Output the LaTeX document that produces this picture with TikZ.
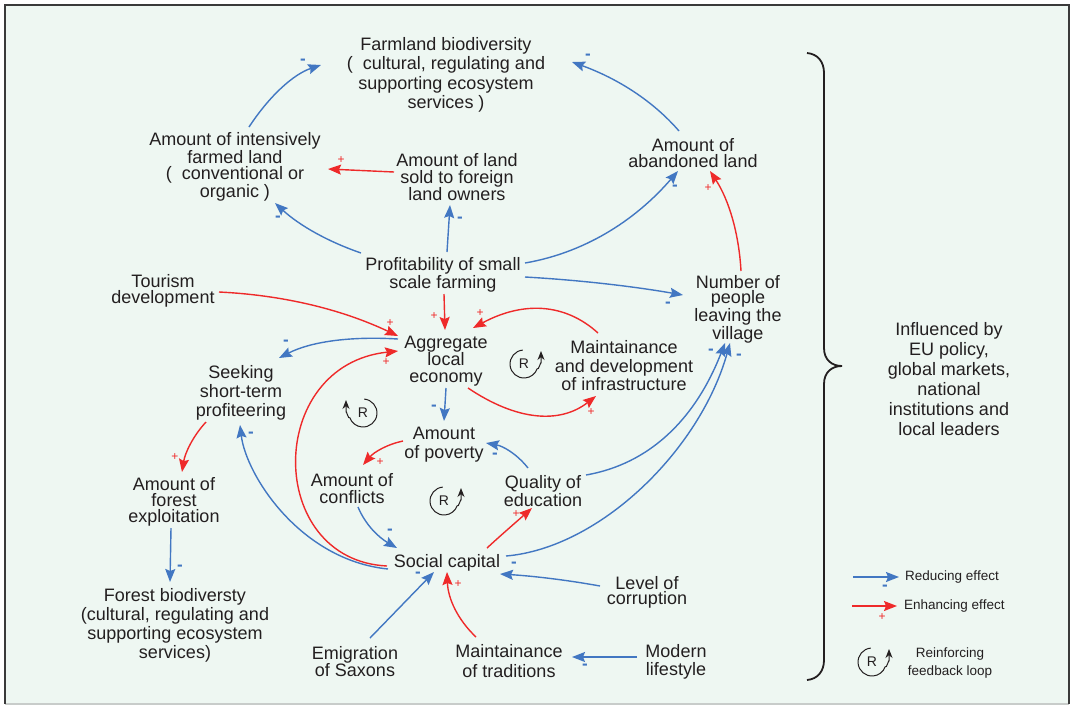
\documentclass[tikz,border=0pt]{standalone}
\usepackage{fontspec}
\setmainfont{Liberation Sans}
\usetikzlibrary{arrows.meta}
\definecolor{bg}{HTML}{EEF7F2}
\definecolor{myblue}{HTML}{4277C2}
\definecolor{myred}{HTML}{EE2A2A}
\definecolor{txt}{HTML}{231F20}
\definecolor{framecol}{HTML}{3A3A3A}
\definecolor{framelow}{HTML}{C8CCCA}
\tikzset{
  lbl/.style={font=\fontsize{18}{#1}\selectfont, align=center, text=txt, inner sep=1pt},
  lbl/.default=17,
  small/.style={font=\fontsize{13.5}{#1}\selectfont, align=center, text=txt, inner sep=1pt},
  small/.default=18.5,
  tipstyle/.style={-{Stealth[length=13pt,width=10pt,inset=2pt]}},
  bluearr/.style={draw=myblue, line width=1.4pt, tipstyle},
  redarr/.style={draw=myred, line width=1.4pt, tipstyle},
  msign/.style={text=myblue, font=\bfseries\fontsize{17}{17}\selectfont, inner sep=0pt},
  psign/.style={text=myred, font=\fontsize{12}{12}\selectfont, inner sep=0pt},
  loopline/.style={draw=txt, line width=1pt},
  bracestyle/.style={draw=txt, line width=1.8pt},
  rloop/.pic={
    \draw[loopline, -{Stealth[length=9pt,width=7pt]}] (95:14) arc[start angle=95,end angle=340,radius=14] to[out=60,in=-90] (17,1) -- (17,13);
    \node[font=\fontsize{14}{14}\selectfont, text=txt, inner sep=0pt] (-r) at (0,0) {R};
  }
}
\begin{document}
\begin{tikzpicture}[x=1pt,y=-1pt]
\useasboundingbox (0,0) rectangle (1070,705);
\fill[white] (0,0) rectangle (1070,705);
\fill[bg] (5,5) rectangle (1069,704);
\draw[framelow, line width=1.2pt] (5,704) -- (1069,704);
\draw[framecol, line width=2pt] (1069,704) -- (1069,5) -- (5,5) -- (5,704);

% nodes
\node[lbl=19.5] (farm) at (446,75) {Farmland biodiversity\\(\ \ cultural, regulating and\\supporting ecosystem\\services )};
\node[lbl=16.5] (inten) at (235,167) {Amount of intensively\\farmed land\\(\ \ conventional or\\organic )};
\node[lbl=17] (sold) at (457,177) {Amount of land\\sold to foreign\\land owners};
\node[lbl=16] (aband) at (693,153) {Amount of\\abandoned land};
\node[lbl=18] (profit) at (443,275) {Profitability of small\\scale farming};
\node[lbl=16] (tour) at (163,291) {Tourism\\development};
\node[lbl=17] (aggr) at (446,361) {Aggregate\\local\\economy};
\node[lbl=18.5] (maint) at (624,366) {Maintainance\\and development\\of infrastructure};
\node[lbl=15.5] (leave) at (738,309) {Number of\\people\\leaving the\\village};
\node[lbl=19] (seek) at (241,393) {Seeking\\short-term\\profiteering};
\node[lbl=19] (pov) at (444,445) {Amount\\of poverty};
\node[lbl=17] (conf) at (352,489) {Amount of\\conflicts};
\node[lbl=16] (qual) at (543,491) {Quality of\\education};
\node[lbl=16] (expl) at (174,502) {Amount of\\forest\\exploitation};
\node[lbl] (soc) at (447,563) {Social capital};
\node[lbl=19] (fbio) at (175,625) {Forest biodiversty\\(cultural, regulating and\\supporting ecosystem\\services)};
\node[lbl=15] (corr) at (647,592) {Level of\\corruption};
\node[lbl=17] (emig) at (355,662) {Emigration\\of Saxons};
\node[lbl=20] (trad) at (509,661) {Maintainance\\of traditions};
\node[lbl=18] (mod) at (676,662) {Modern\\lifestyle};
\node[lbl=20] (infl) at (949,379) {Influenced by\\EU policy,\\global markets,\\national\\institutions and\\local leaders};

% connectors
\draw[bluearr] ([shift={(14,-40)}]inten.center) .. controls (270,95) and (294,74) .. ([shift={(-125,-10)}]farm.center) node[msign] (m1) at (303,62) {-};
\draw[redarr] ([shift={(-63,-5)}]sold.center) -- ([shift={(93,2)}]inten.center) node[psign] (p2) at (341,160) {+};
\draw[bluearr] ([shift={(-82,-22)}]profit.center) .. controls (329,242) and (300,226) .. ([shift={(40,36)}]inten.center) node[msign] (m3) at (278,219) {-};
\draw[bluearr] ([shift={(4,-23)}]profit.center) -- ([shift={(-7,28)}]sold.center) node[msign] (m4) at (460,220) {-};
\draw[bluearr] ([shift={(82,-12)}]profit.center) .. controls (583,253) and (634,222) .. ([shift={(-15,18)}]aband.center) node[msign] (m5) at (675,188) {-};
\draw[bluearr] ([shift={(82,2)}]profit.center) .. controls (578,280) and (631,286) .. ([shift={(-55,-14)}]leave.center) node[msign] (m6) at (668,305) {-};
\draw[bluearr] ([shift={(-14,-22)}]aband.center) .. controls (654,102) and (619,79) .. ([shift={(126,-13)}]farm.center) node[msign] (m7) at (588,57) {-};
\draw[redarr] ([shift={(3,-38)}]leave.center) .. controls (739,234) and (729,200) .. ([shift={(17,18)}]aband.center) node[psign] (p8) at (708,188) {+};
\draw[redarr] ([shift={(1,19)}]profit.center) -- ([shift={(-1,-31)}]aggr.center) node[psign] (p9) at (434,316) {+};
\draw[redarr] ([shift={(56,1)}]tour.center) .. controls (282,295) and (341,309) .. ([shift={(-48,-25)}]aggr.center) node[psign] (p10) at (390,323) {+};
\draw[redarr] ([shift={(-26,-33)}]maint.center) .. controls (565,303) and (523,301) .. ([shift={(27,-33)}]aggr.center) node[psign] (p11) at (480,313) {+};
\draw[redarr] ([shift={(22,27)}]aggr.center) .. controls (517,421) and (560,424) .. ([shift={(-28,30)}]maint.center) node[psign] (p12) at (591,412) {+};
\draw[bluearr] ([shift={(-48,-22)}]aggr.center) .. controls (349,336) and (310,342) .. ([shift={(38,-35)}]seek.center) node[msign] (m13) at (286,343) {-};
\draw[redarr] ([shift={(-60,3)}]soc.center) .. controls (265,560) and (265,365) .. ([shift={(-48,-10)}]aggr.center) node[psign] (p14) at (386,362) {+};
\draw[bluearr] ([shift={(-59,6)}]soc.center) .. controls (300,560) and (246,475) .. ([shift={(-1,32)}]seek.center) node[msign] (m15) at (251,435) {-};
\draw[redarr] ([shift={(-35,29)}]seek.center) .. controls (193,436) and (185,453) .. ([shift={(8,-30)}]expl.center) node[psign] (p16) at (175,457) {+};
\draw[bluearr] ([shift={(-3,26)}]expl.center) -- ([shift={(-5,-43)}]fbio.center) node[msign] (m17) at (180,568) {-};
\draw[bluearr] ([shift={(0,27)}]aggr.center) -- ([shift={(0,-24)}]pov.center) node[msign] (m18) at (434,408) {-};
\draw[redarr] ([shift={(-41,-4)}]pov.center) .. controls (388,444) and (374,452) .. ([shift={(11,-24)}]conf.center) node[psign] (p19) at (380,462) {+};
\draw[bluearr] ([shift={(-15,-23)}]qual.center) .. controls (517,454) and (503,446) .. ([shift={(42,-2)}]pov.center) node[msign] (m20) at (495,456) {-};
\draw[bluearr] ([shift={(6,18)}]conf.center) .. controls (365,524) and (378,537) .. ([shift={(-50,-15)}]soc.center) node[msign] (m21) at (390,532) {-};
\draw[redarr] ([shift={(40,-15)}]soc.center) .. controls (500,536) and (515,523) .. ([shift={(-11,17)}]qual.center) node[psign] (p22) at (516,514) {+};
\draw[bluearr] ([shift={(43,-16)}]qual.center) .. controls (649,464) and (695,420) .. ([shift={(-13,34)}]leave.center) node[msign] (m23) at (711,352) {-};
\draw[bluearr] ([shift={(59,-7)}]soc.center) .. controls (600,548) and (700,450) .. ([shift={(-8,34)}]leave.center) node[msign] (m24) at (739,357) {-};
\draw[bluearr] ([shift={(15,-24)}]emig.center) -- ([shift={(-13,9)}]soc.center) node[msign] (m25) at (418,575) {-};
\draw[redarr] ([shift={(-33,-24)}]trad.center) .. controls (458,620) and (448,599) .. ([shift={(0,9)}]soc.center) node[psign] (p26) at (458,584) {+};
\draw[bluearr] ([shift={(-47,-6)}]corr.center) .. controls (567,580) and (533,576) .. ([shift={(53,11)}]soc.center) node[msign] (m27) at (514,565) {-};
\draw[bluearr] ([shift={(-39,-5)}]mod.center) -- ([shift={(63,-4)}]trad.center) node[msign] (m28) at (585,667) {-};

% reinforcing loops
\pic[yscale=-1] (RA) at (524,364) {rloop};
\pic[yscale=-1,xscale=-1] (RB) at (363,413) {rloop};
\pic[yscale=-1] (RC) at (444,501) {rloop};

% brace
\draw[bracestyle] (807,53) .. controls (818,54) and (824,62) .. (824,73) -- (824,348) .. controls (824,360) and (832,366) .. (842,366) .. controls (832,366) and (824,372) .. (824,384) -- (824,660) .. controls (824,671) and (818,679) .. (807,680);

% legend
\coordinate (lb1) at (853,577);
\coordinate (lb2) at (899,577);
\coordinate (lr1) at (852,606);
\coordinate (lr2) at (897,606);
\draw[bluearr] (lb1) -- (lb2) node[msign] (lm) at (885,588) {-};
\draw[redarr] (lr1) -- (lr2) node[psign] (lp) at (882,617) {+};
\node[small, anchor=west] (lbt) at (904,577) {Reducing effect};
\node[small, anchor=west] (lrt) at (903,606) {Enhancing effect};
\pic[yscale=-1] (RL) at (872,662) {rloop};
\node[small=18.5] (lrl) at (950,663) {Reinforcing\\feedback loop};
\end{tikzpicture}
\end{document}
